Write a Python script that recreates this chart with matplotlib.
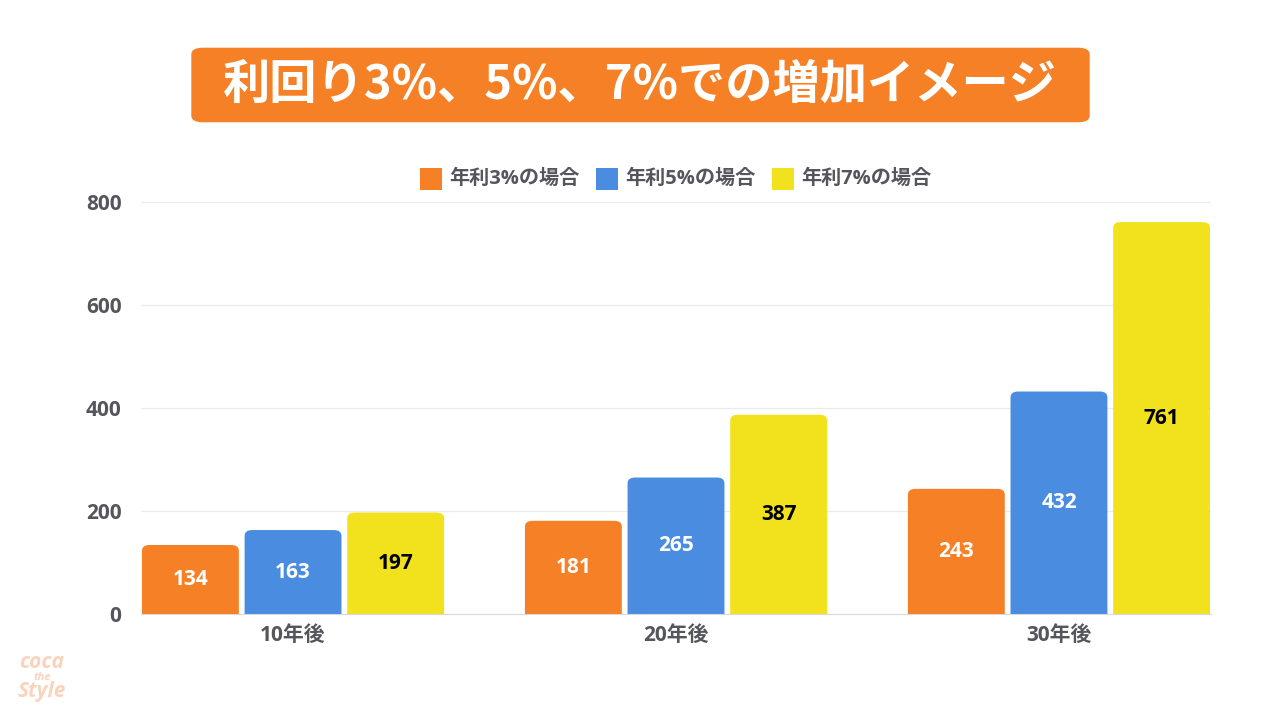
import matplotlib.pyplot as plt
import numpy as np
from matplotlib.patches import FancyBboxPatch, Rectangle

plt.rcParams['font.family'] = ['Open Sans', 'Noto Sans CJK JP', 'DejaVu Sans']

# data
categories = ['10年後', '20年後', '30年後']
series_names = ['年利3%の場合', '年利5%の場合', '年利7%の場合']
rate3 = [134, 181, 243]
rate5 = [163, 265, 432]
rate7 = [197, 387, 761]
yticks = [0, 200, 400, 600, 800]

colors = ['#F58025', '#4A8CE0', '#F2E21E']
label_colors = ['white', 'white', 'black']
tick_color = '#55565B'

fig = plt.figure(figsize=(12.82, 7.16), dpi=100)
W, H = 1282, 716
ax = fig.add_axes([141 / W, 1 - 614 / H, (1211 - 141) / W, (614 - 202) / H])

x = np.arange(len(categories))
width = 0.253
offset = 0.268
for i, vals in enumerate([rate3, rate5, rate7]):
    bars = ax.bar(x + (i - 1) * offset, vals, width, color=colors[i], zorder=3)
    for b, v in zip(bars, vals):
        # swap the plain bar for one with rounded top corners
        b.set_visible(False)
        p = FancyBboxPatch((b.get_x(), -30), b.get_width(), b.get_height() + 30,
                           boxstyle='round,pad=0,rounding_size=0.02',
                           mutation_aspect=560, facecolor=colors[i],
                           edgecolor='none', zorder=3)
        ax.add_patch(p)
        ax.text(b.get_x() + b.get_width() / 2, v / 2, str(v), ha='center', va='center',
                color=label_colors[i], fontsize=15, fontweight='bold', zorder=4)

ax.set_xlim(-0.397, 2.397)
ax.set_ylim(0, 800)
ax.set_yticks(yticks)
ax.set_xticks(x)
ax.set_xticklabels(categories)
ax.grid(axis='y', color='#EBEBEB', linewidth=1, zorder=0)
for s in ['top', 'right', 'left']:
    ax.spines[s].set_visible(False)
ax.spines['bottom'].set_color('#D9D9D9')
ax.spines['bottom'].set_zorder(5)
ax.tick_params(length=0, labelsize=15, labelcolor=tick_color, pad=14)
for t in ax.get_xticklabels() + ax.get_yticklabels():
    t.set_fontweight('bold')
ax.tick_params(axis='x', pad=8)

# title box
box = FancyBboxPatch((199 / W, 1 - 118 / H), 883 / W, 66 / H,
                     boxstyle='round,pad=0.006,rounding_size=0.009',
                     transform=fig.transFigure, facecolor='#F58025', edgecolor='none')
fig.patches.append(box)
fig.text(640 / W, 1 - 85 / H, '利回り3%、5%、7%での増加イメージ', ha='center', va='center',
         color='white', fontsize=34, fontweight='bold', family=['Noto Sans CJK JP'])

# legend
leg_x = [420, 596, 772]
for name, c, lx in zip(series_names, colors, leg_x):
    fig.patches.append(Rectangle((lx / W, 1 - 190 / H), 22 / W, 22 / H,
                                 transform=fig.transFigure, facecolor=c, edgecolor='none'))
    fig.text((lx + 29) / W, 1 - 179 / H, name, ha='left', va='center',
             color=tick_color, fontsize=14.5, fontweight='bold')

# watermark
fig.text(42 / W, 1 - 662 / H, 'coca', ha='center', va='center', color='#FAD3BC',
         fontsize=15, fontweight='bold', style='italic')
fig.text(42 / W, 1 - 677 / H, 'the', ha='center', va='center', color='#FAD3BC',
         fontsize=8, fontweight='bold', style='italic')
fig.text(42 / W, 1 - 692 / H, 'Style', ha='center', va='center', color='#FAD3BC',
         fontsize=15, fontweight='bold', style='italic')

fig.savefig('out.png', dpi=100)
